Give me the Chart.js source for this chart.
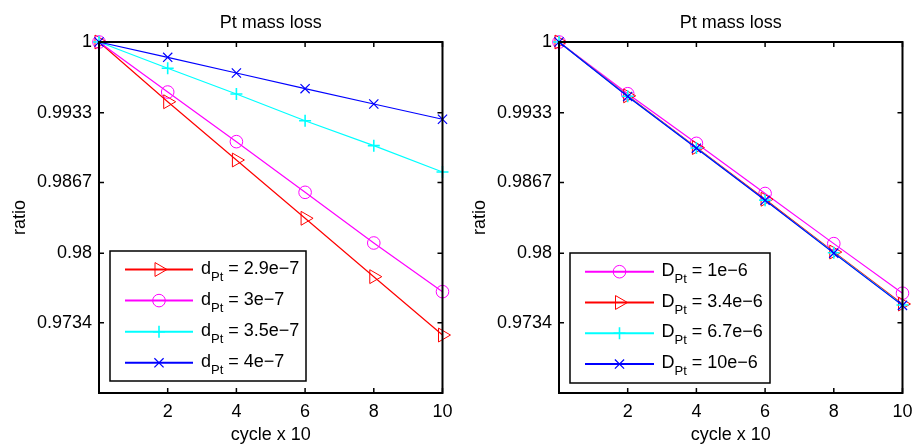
<!DOCTYPE html>
<html>
<head>
<meta charset="utf-8">
<script src="https://cdn.jsdelivr.net/npm/chart.js@4.4.0/dist/chart.umd.min.js"></script>
<style>
  body { margin: 0; background: #fff; }
  #wrap { position: relative; width: 917px; height: 444px; overflow: hidden; }
  canvas { position: absolute; top: 0; }
  #left { left: 0; }
  #right { left: 460px; }
</style>
</head>
<body>
<div id="wrap">
  <canvas id="left" width="461" height="444"></canvas>
  <canvas id="right" width="461" height="444"></canvas>
</div>
<script>
// x = cycle x 10
const cycles = [0, 2, 4, 6, 8, 10];
const xTicks = [2, 4, 6, 8, 10];
const yTicks = [0.9734, 0.98, 0.9867, 0.9933, 1];

// left panel: d_Pt
const leftNames = ['2.9e\u22127', '3e\u22127', '3.5e\u22127', '4e\u22127'];
const leftD29 = [1, 0.99434, 0.98882, 0.98330, 0.97777, 0.97224];
const leftD30 = [1, 0.99526, 0.99056, 0.98576, 0.98096, 0.97635];
const leftD35 = [1, 0.99751, 0.99507, 0.99254, 0.99018, 0.98768];
const leftD40 = [1, 0.99855, 0.99706, 0.99558, 0.99413, 0.99268];

// right panel: D_Pt
const rightNames = ['1e\u22126', '3.4e\u22126', '6.7e\u22126', '10e\u22126'];
const rightD1 = [1, 0.99510, 0.99040, 0.98565, 0.98090, 0.97620];
const rightD34 = [1, 0.99490, 0.99000, 0.98510, 0.98010, 0.97518];
const rightD67 = [1, 0.99486, 0.98996, 0.98502, 0.98003, 0.97508];
const rightD10 = [1, 0.99484, 0.98994, 0.98500, 0.98000, 0.97505];

Chart.defaults.font.family = '"Liberation Sans", Arial, sans-serif';
Chart.defaults.font.size = 18;
Chart.defaults.color = '#000';

const markers = {
    tri:    { pointStyle: 'triangle', radius: 8, rotation: 90, bw: 1 },
    circle: { pointStyle: 'circle', radius: 6.3, rotation: 0, bw: 1 },
    plus:   { pointStyle: 'cross', radius: 6, rotation: 0, bw: 1.6 },
    x:      { pointStyle: 'crossRot', radius: 6.5, rotation: 0, bw: 1.2 }
};

function series(values, color, mk, idx) {
    return {
        data: values.map((v, i) => ({ x: cycles[i], y: v })),
        borderColor: color,
        borderWidth: 1.2,
        pointStyle: mk.pointStyle,
        pointRadius: mk.radius,
        pointRotation: mk.rotation,
        pointBorderColor: color,
        pointBackgroundColor: 'rgba(0,0,0,0)',
        pointBorderWidth: mk.bw,
        clip: false,
        order: 10 - idx
    };
}

// box with inward ticks, MATLAB style
const framePlugin = {
    id: 'frame',
    afterDraw(chart) {
        const ctx = chart.ctx;
        const a = chart.chartArea;
        const xs = chart.scales.x, ys = chart.scales.y;
        ctx.save();
        ctx.strokeStyle = '#000';
        ctx.lineWidth = 1.5;
        ctx.beginPath();
        xTicks.forEach(t => {
            const px = xs.getPixelForValue(t);
            ctx.moveTo(px, a.bottom); ctx.lineTo(px, a.bottom - 5);
            ctx.moveTo(px, a.top); ctx.lineTo(px, a.top + 5);
        });
        yTicks.forEach(t => {
            const py = ys.getPixelForValue(t);
            ctx.moveTo(a.left, py); ctx.lineTo(a.left + 5, py);
            ctx.moveTo(a.right, py); ctx.lineTo(a.right - 5, py);
        });
        ctx.stroke();
        ctx.lineWidth = 2;
        ctx.strokeRect(a.left, a.top, a.right - a.left, a.bottom - a.top);
        ctx.restore();
    }
};

function legendPlugin(prefix, names, box) {
    return {
        id: 'matLegend',
        afterDatasetsDraw(chart) {
            const ctx = chart.ctx;
            ctx.save();
            ctx.fillStyle = '#fff';
            ctx.fillRect(box.x, box.y, box.w, box.h);
            ctx.strokeStyle = '#000';
            ctx.lineWidth = 1.5;
            ctx.strokeRect(box.x, box.y, box.w, box.h);
            names.forEach((name, i) => {
                const ds = chart.data.datasets[i];
                const y = box.rowY + i * box.rowGap;
                ctx.strokeStyle = ds.borderColor;
                ctx.lineWidth = 2;
                ctx.beginPath();
                ctx.moveTo(box.lineX0, y);
                ctx.lineTo(box.lineX1, y);
                ctx.stroke();
                ctx.fillStyle = 'rgba(0,0,0,0)';
                ctx.lineWidth = ds.pointBorderWidth;
                Chart.helpers.drawPoint(ctx, {
                    pointStyle: ds.pointStyle,
                    radius: ds.pointRadius,
                    rotation: ds.pointRotation,
                    borderWidth: ds.pointBorderWidth
                }, (box.lineX0 + box.lineX1) / 2, y);
                ctx.fillStyle = '#000';
                ctx.textBaseline = 'alphabetic';
                ctx.textAlign = 'left';
                let tx = box.textX;
                ctx.font = '18px "Liberation Sans", Arial, sans-serif';
                ctx.fillText(prefix, tx, y + 4);
                tx += ctx.measureText(prefix).width;
                ctx.font = '13px "Liberation Sans", Arial, sans-serif';
                ctx.fillText('Pt', tx, y + 11);
                tx += ctx.measureText('Pt').width;
                ctx.font = '18px "Liberation Sans", Arial, sans-serif';
                ctx.fillText(' = ' + name, tx, y + 4);
            });
            ctx.restore();
        }
    };
}

function makeConfig(datasets, legend) {
    return {
        type: 'line',
        data: { datasets: datasets },
        options: {
            responsive: false,
            animation: false,
            layout: { padding: { left: 0, right: 11, top: 0, bottom: 0 } },
            plugins: {
                legend: { display: false },
                tooltip: { enabled: false },
                title: {
                    display: true,
                    fullSize: false,
                    text: 'Pt mass loss',
                    font: { size: 18, weight: 'normal' },
                    color: '#000',
                    padding: { top: 12, bottom: 8.4 }
                }
            },
            scales: {
                x: {
                    type: 'linear',
                    min: 0,
                    max: 10,
                    grid: { display: false, drawTicks: false },
                    border: { display: false },
                    ticks: { padding: 8.5, color: '#000' },
                    afterBuildTicks: s => { s.ticks = xTicks.map(v => ({ value: v })); },
                    afterFit: s => { s.height = 51; },
                    title: { display: true, text: 'cycle x 10', padding: { top: 0, bottom: -1.5 }, color: '#000' }
                },
                y: {
                    type: 'linear',
                    min: 0.96675,
                    max: 1,
                    grid: { display: false, drawTicks: false },
                    border: { display: false },
                    ticks: { padding: 7, color: '#000', callback: v => String(v) },
                    afterBuildTicks: s => { s.ticks = yTicks.map(v => ({ value: v })); },
                    afterFit: s => { s.width = 99; },
                    title: { display: true, text: 'ratio', padding: { top: 9, bottom: 0 }, color: '#000' }
                }
            }
        },
        plugins: [legend, framePlugin]
    };
}

const leftSets = [
    series(leftD29, '#ff0000', markers.tri, 0),
    series(leftD30, '#ff00ff', markers.circle, 1),
    series(leftD35, '#00ffff', markers.plus, 2),
    series(leftD40, '#0000ff', markers.x, 3)
];
const rightSets = [
    series(rightD1, '#ff00ff', markers.circle, 0),
    series(rightD34, '#ff0000', markers.tri, 1),
    series(rightD67, '#00ffff', markers.plus, 2),
    series(rightD10, '#0000ff', markers.x, 3)
];

new Chart(document.getElementById('left').getContext('2d'),
    makeConfig(leftSets, legendPlugin('d', leftNames,
        { x: 110, y: 251, w: 196, h: 130, rowY: 269.5, rowGap: 31.1, lineX0: 125, lineX1: 193, textX: 201 })));

new Chart(document.getElementById('right').getContext('2d'),
    makeConfig(rightSets, legendPlugin('D', rightNames,
        { x: 110, y: 253, w: 200, h: 130, rowY: 271.7, rowGap: 30.8, lineX0: 125, lineX1: 194, textX: 201.5 })));
</script>
</body>
</html>
